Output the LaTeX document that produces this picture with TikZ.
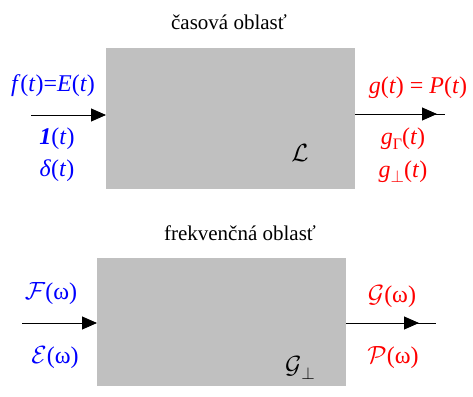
\documentclass[tikz,border=0pt]{standalone}
\usepackage{fontspec}
\setmainfont{Liberation Serif}
\usetikzlibrary{arrows.meta}
\definecolor{boxgray}{RGB}{192,192,192}
\tikzset{
  blk/.style={fill=boxgray,draw=none},
  sig/.style={draw=black,line width=0.9pt,-{Triangle[length=15pt,width=13pt]}},
  inlab/.style={text=blue,font=\fontsize{24}{27}\selectfont,inner sep=0pt},
  outlab/.style={text=red,font=\fontsize{24}{27}\selectfont,inner sep=0pt},
  title/.style={font=\fontsize{21}{24}\selectfont,inner sep=0pt}
}
\newcommand{\sbsc}[1]{\raisebox{-0.45ex}{\fontsize{16}{18}\selectfont #1}}
\begin{document}
\begin{tikzpicture}[x=1pt,y=-1pt]
\useasboundingbox (0,0) rectangle (473,396);
% top
\node[title] (t1) at (229,22) {časová oblasť};
\fill[blk] (106,48) rectangle (355,189);
\coordinate (b1w) at (106,115);
\coordinate (b1e) at (355,114);
\coordinate (in1) at (31,115);
\coordinate (out1) at (445,114);
\draw[sig] (in1) -- (b1w);
\draw[line width=0.9pt] (b1e) -- (out1);
\draw[sig] (b1e) -- (437,114);
\node[inlab] (f) at (53,86) {\textit{f}(\textit{t})=\textit{E}(\textit{t})};
\node[inlab] (one) at (57,139) {\textbf{\textit{1}}(\textit{t})};
\node[inlab] (delta) at (57,171) {\textit{δ}(\textit{t})};
\node[outlab] (g) at (418,88) {\textit{g}(\textit{t}) = \textit{P}(\textit{t})};
\node[outlab] (gG) at (403,139) {\textit{g}\sbsc{Γ}(\textit{t})};
\node[outlab] (gP) at (403,172) {\textit{g}\sbsc{$\perp$}(\textit{t})};
\node[font=\fontsize{25}{28}\selectfont] (L) at (300,153) {$\mathcal{L}$};
% bottom
\node[title] (t2) at (240,233) {frekvenčná oblasť};
\fill[blk] (97,258) rectangle (346,386);
\coordinate (b2w) at (97,323);
\coordinate (b2e) at (346,323);
\coordinate (in2) at (22,323);
\coordinate (out2) at (436,323);
\draw[sig] (in2) -- (b2w);
\draw[line width=0.9pt] (b2e) -- (out2);
\draw[sig] (b2e) -- (419,323);
\node[inlab] (F) at (51,294) {$\mathcal{F}$(ω)};
\node[inlab] (E) at (55,358) {$\mathcal{E}$(ω)};
\node[outlab] (G) at (392,297) {$\mathcal{G}$(ω)};
\node[outlab] (P) at (393,358) {$\mathcal{P}$(ω)};
\node[font=\fontsize{27}{30}\selectfont] (Gp) at (300,368) {$\mathcal{G}$\sbsc{$\perp$}};
\end{tikzpicture}
\end{document}
